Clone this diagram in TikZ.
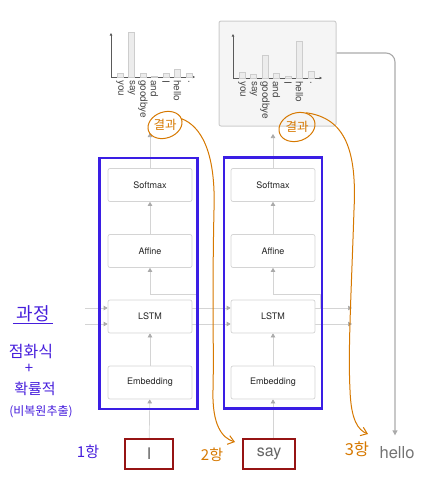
\documentclass[tikz,border=0pt]{standalone}
\usepackage{fontspec}
\setmainfont{TeX Gyre Heros}
\newfontfamily\kr{Noto Sans CJK KR}
\usetikzlibrary{arrows.meta,shapes.geometric}
\definecolor{bluebox}{RGB}{58,30,228}
\definecolor{wordred}{RGB}{150,20,20}
\definecolor{annot}{RGB}{214,120,0}
\definecolor{purp}{RGB}{70,30,220}
\definecolor{lgray}{RGB}{212,212,212}
\definecolor{agray}{RGB}{170,170,170}
\definecolor{barfill}{RGB}{236,236,236}
\definecolor{barline}{RGB}{205,205,205}
\definecolor{axisc}{RGB}{90,90,90}
\definecolor{chartbg}{RGB}{245,245,245}
\pgfdeclarelayer{bg}
\pgfsetlayers{bg,main}
\begin{document}
\begin{tikzpicture}[x=1pt,y=-1pt,
  layerbox/.style={draw=lgray, fill=white, rounded corners=2pt, minimum width=84pt,
    minimum height=33pt, line width=0.7pt, font=\fontsize{9}{10}\selectfont, text=black!85},
  blockbox/.style={draw=bluebox, line width=2.2pt, minimum width=98pt, minimum height=251pt},
  wordbox/.style={draw=wordred, line width=2pt, minimum height=30pt,
    font=\fontsize{16}{17}\selectfont, text=black!60},
  conn/.style={draw=lgray, line width=0.7pt,
    -{Triangle[length=4pt,width=4.5pt,fill=agray,color=agray]}},
  helloline/.style={draw=agray, line width=1.1pt, rounded corners=9pt,
    -{Triangle[length=5pt,width=5pt,fill=agray,color=agray]}},
  axisline/.style={draw=axisc, line width=0.6pt, -{Triangle[length=2.5pt,width=2.5pt]}},
  bar/.style={draw=barline, fill=barfill, line width=0.5pt},
  lbl/.style={rotate=-90, anchor=west, inner sep=0pt, font=\fontsize{10}{10}\selectfont, text=black!70},
  resring/.style={draw=annot, ellipse, line width=1pt, inner sep=0pt, rotate=20},
  restext/.style={text=annot, inner sep=0pt, font=\kr\fontsize{12.5}{13}\selectfont},
  hand/.style={draw=annot, line width=1pt, line cap=round, line join=round,
    -{Straight Barb[length=6pt,width=9pt]}},
  orange/.style={text=annot, font=\kr\fontsize{#1}{#1}\selectfont},
  purple/.style={text=purp, font=\kr\fontsize{#1}{#1}\selectfont},
]
\useasboundingbox (0,0) rectangle (437,480);

% ---------- charts ----------
% left chart
\draw[axisline] (111,77) -- (111,33);
\draw[axisline] (111,77) -- (195,77);
\foreach \x/\t in {120/73,131.5/32,143/73,154.5/76,166/73,177.5/69,189/73}
  \draw[bar] (\x-3,77) rectangle (\x+3,\t);
\foreach \x/\w [count=\i] in {120/you,131.5/say,143/goodbye,154.5/and,166/I,177.5/hello,189/.}
  \node[lbl] (lw\i) at (\x,80) {\w};

% right chart
\node[draw=barline, fill=chartbg, rounded corners=2pt, line width=1pt,
  minimum width=117pt, minimum height=105pt] (Rchart) at (277.5,73.5) {};
\draw[axisline] (233,78) -- (233,34);
\draw[axisline] (233,78) -- (322,78);
\foreach \x/\t in {242/72,253.5/74,265/55,276.5/73,288/76,299.5/41,311/71}
  \draw[bar] (\x-3,78) rectangle (\x+3,\t);
\foreach \x/\w [count=\i] in {242/you,253.5/say,265/goodbye,276.5/and,288/I,299.5/hello,311/.}
  \node[lbl] (rw\i) at (\x,81) {\w};

% ---------- blocks ----------
\node[blockbox] (Lb) at (148.5,283.5) {};
\node[blockbox] (Rb) at (273,283) {};

\node[layerbox] (Ls) at (150,185) {Softmax};
\node[layerbox] (La) at (150,251) {Affine};
\node[layerbox] (Ll) at (150,316.5) {LSTM};
\node[layerbox] (Le) at (150,382.5) {Embedding};
\node[layerbox] (Rs) at (273,185) {Softmax};
\node[layerbox] (Ra) at (273,251) {Affine};
\node[layerbox] (Rl) at (273,316.5) {LSTM};
\node[layerbox] (Re) at (273,382.5) {Embedding};

\node[wordbox, minimum width=48pt] (Lw) at (149,454) {I};
\node[wordbox, minimum width=52pt] (Rw) at (269,453.5) {say};
\node[font=\fontsize{16.5}{17}\selectfont, text=black!55] (hello) at (397,453) {hello};

\coordinate (Lout) at (150,133);
\coordinate (Rout) at (273,134);
\coordinate (in1) at (85,308);
\coordinate (in2) at (85,324);
\coordinate (out1) at (352,308);
\coordinate (out2) at (352,324);
\coordinate (Lbr) at (197,294);
\coordinate (Rbr) at (320,294);
\coordinate (hturn) at (395,53);

\begin{pgfonlayer}{bg}
  \draw[conn] (Lw) -- (Le);
  \draw[conn] (Rw.north -| Re) -- (Re);
  \draw[conn] (Le) -- (Ll);
  \draw[conn] (Re) -- (Rl);
  \draw[conn] (La) -- (Ls);
  \draw[conn] (Ra) -- (Rs);
  \draw[conn] (Ls) -- (Lout);
  \draw[conn] (Rs) -- (Rout);
  \draw[conn] (in1) -- (in1 -| Ll.west);
  \draw[conn] (in2) -- (in2 -| Ll.west);
  \draw[conn] (in1 -| Ll.east) -- (in1 -| Rl.west);
  \draw[conn] (in2 -| Ll.east) -- (in2 -| Rl.west);
  \draw[conn] (in1 -| Rl.east) -- (out1);
  \draw[conn] (in2 -| Rl.east) -- (out2);
  \draw[conn] (Lbr |- in1) -- (Lbr) -- (Lbr -| La) -- (La);
  \draw[conn] (Rbr |- in1) -- (Rbr) -- (Rbr -| Ra) -- (Ra);
\end{pgfonlayer}

\draw[helloline] (Rchart.east |- hturn) -- (hturn) -- ([yshift=8pt]hturn |- hello.north);

% ---------- orange annotations ----------
\node[resring, minimum width=35pt, minimum height=26pt] (Lres) at (165,125) {};
\node[restext] (Lrt) at (Lres.center) {결과};
\node[resring, minimum width=37pt, minimum height=28pt] (Rres) at (297,127) {};
\node[restext] (Rrt) at (Rres.center) {결과};
\node[orange=15] (two) at (212,455) {2항};
\node[orange=16.5] (three) at (357,449) {3항};
\coordinate (twoend) at (235,442);
\coordinate (threeend) at (368,434);
\draw[hand] (Lres.east) .. controls (200,126) and (216,150) .. (214,210)
  .. controls (212,300) and (214,350) .. (213,390)
  .. controls (212,425) and (222,438) .. (twoend);
\draw[hand] (Rres.north east) .. controls (345,118) and (357,150) .. (354,210)
  .. controls (351,300) and (348,350) .. (350,390)
  .. controls (351,420) and (358,430) .. (threeend);

% ---------- purple annotations ----------
\node[purple=18] (p1) at (33,314) {과정};
\draw[purp, line width=1.1pt] (p1.south west) ++(0,-2) coordinate (u1) -- (u1 -| p1.south east);
\node[purple=16] (p2) at (31,352) {점화식};
\node[purple=15] (p3) at (29,369) {+};
\node[purple=15] (p4) at (35,389) {확률적};
\node[purple=12] (p5) at (41,412) {(비복원추출)};
\node[purple=15] (p6) at (88,452) {1항};
\end{tikzpicture}
\end{document}
